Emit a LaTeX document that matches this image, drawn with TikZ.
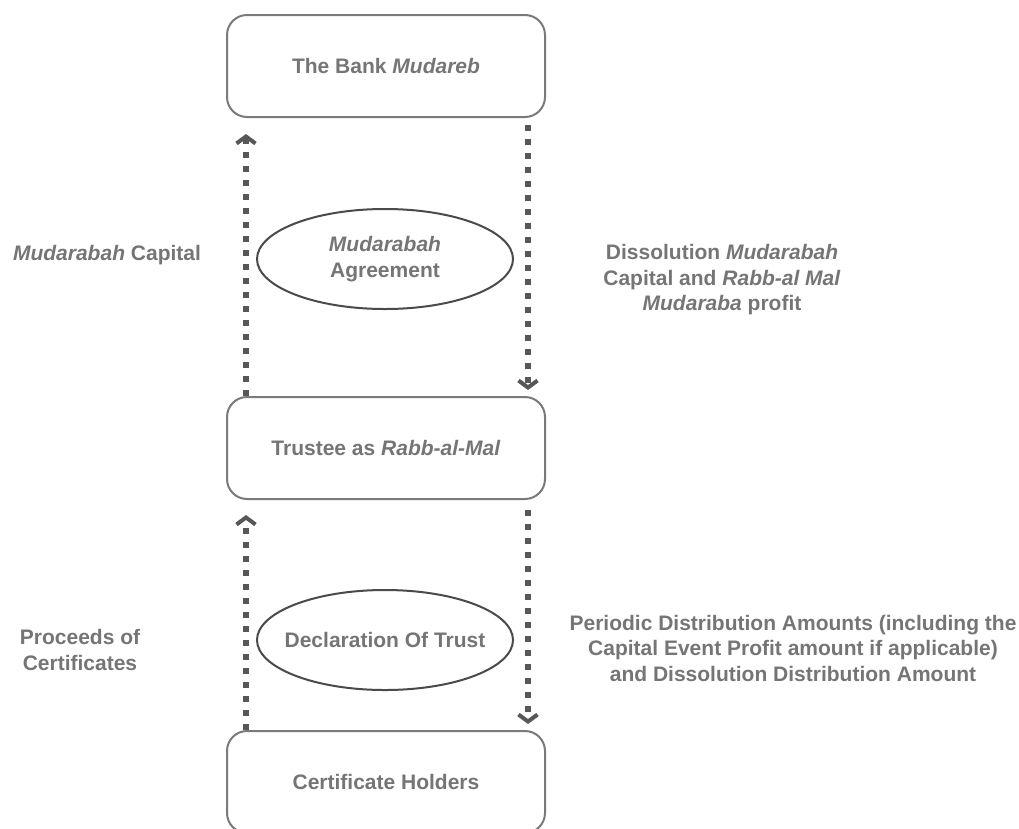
\documentclass[tikz,border=0pt]{standalone}
\usepackage{fontspec}
\setmainfont{Liberation Sans}
\usetikzlibrary{arrows.meta,shapes.geometric}
\definecolor{txt}{HTML}{757575}
\definecolor{boxline}{HTML}{7A7A7A}
\definecolor{ovalline}{HTML}{4A4A4A}
\definecolor{flow}{HTML}{575757}
\begin{document}
\begin{tikzpicture}[x=1pt,y=-1pt,
  lbl/.style={font=\fontsize{21}{25.5}\selectfont\bfseries, text=txt},
  party/.style={lbl, draw=boxline, line width=2pt, rounded corners=20pt,
    minimum width=318pt, minimum height=102pt, inner sep=0pt},
  deed/.style={lbl, ellipse, draw=ovalline, line width=2pt, align=center,
    minimum width=256pt, minimum height=100pt, inner xsep=-14pt, inner ysep=0pt},
  note/.style={lbl, align=center, inner sep=0pt},
  flowline/.style={draw=flow, line width=6.5pt, dash pattern=on 6pt off 8pt,
    -{Straight Barb[length=7pt, width=19pt, line width'=4pt]}}]
\clip (0,0) rectangle (1019,828);
% the three parties
\node[party] (bank)    at (386,66)  {The Bank \textit{Mudareb}};
\node[party] (trustee) at (386,448) {Trustee as \textit{Rabb-al-Mal}};
\node[party] (holders) at (386,782) {Certificate Holders};
% the two contracts
\node[deed] (agree) at (385,259) {\textit{Mudarabah}\\Agreement};
\node[deed] (trust) at (385,640) {Declaration Of Trust};
% columns of the flows
\coordinate (xl) at (246,0);
\coordinate (xr) at (528,0);
% flows
\draw[flowline, shorten >=16pt] (trustee.north -| xl) -- (bank.south -| xl);
\draw[flowline, shorten <=7pt, shorten >=6pt] (bank.south -| xr) -- (trustee.north -| xr);
\draw[flowline, shorten >=15pt] (holders.north -| xl) -- (trustee.south -| xl);
\draw[flowline, shorten <=10pt, shorten >=6pt] (trustee.south -| xr) -- (holders.north -| xr);
% flow labels
\node[note] (capital)  at (107,255) {\textit{Mudarabah} Capital};
\node[note] (dissolve) at (722,280) {Dissolution \textit{Mudarabah}\\Capital and \textit{Rabb-al Mal}\\\textit{Mudaraba} profit};
\node[note] (proceeds) at (80,650)  {Proceeds of\\Certificates};
\node[note] (periodic) at (793,648) {Periodic Distribution Amounts (including the\\Capital Event Profit amount if applicable)\\and Dissolution Distribution Amount};
\end{tikzpicture}
\end{document}
